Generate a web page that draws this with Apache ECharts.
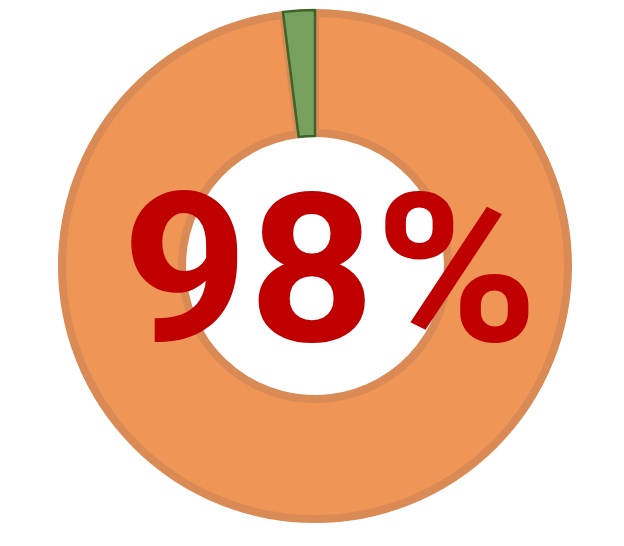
<!DOCTYPE html>
<html>
<head>
<meta charset="utf-8">
<script src="https://cdn.jsdelivr.net/npm/echarts@6/dist/echarts.min.js"></script>
<style>
html,body{margin:0;padding:0;background:#fff;}
#chart{width:624px;height:546px;}
</style>
</head>
<body>
<div id="chart"></div>
<script>
const categories = ['Complete', 'Remaining'];
const values = [98, 2];
const centerText = values[0] + '%';

const chart = echarts.init(document.getElementById('chart'), null, {renderer: 'canvas'});
chart.setOption({
  backgroundColor: '#ffffff',
  animation: false,
  series: [
    {
      type: 'pie',
      center: [315, 266],
      radius: [133, 253],
      startAngle: 90,
      clockwise: true,
      silent: true,
      label: {show: false},
      labelLine: {show: false},
      data: [
        {name: categories[0], value: values[0], itemStyle: {color: '#EF9556', borderColor: '#DA8A55', borderWidth: 8}},
        {name: categories[1], value: values[1], itemStyle: {color: 'rgba(0,0,0,0)', borderWidth: 0}}
      ]
    },
    {
      type: 'pie',
      center: [315, 266],
      radius: [130, 256],
      startAngle: 90,
      clockwise: true,
      silent: true,
      label: {show: false},
      labelLine: {show: false},
      data: [
        {name: categories[0], value: values[0], itemStyle: {color: 'rgba(0,0,0,0)', borderWidth: 0}},
        {name: categories[1], value: values[1], itemStyle: {color: '#77A05E', borderColor: '#3D6429', borderWidth: 2.5}}
      ]
    }
  ],
  graphic: [
    {
      type: 'text',
      z: 100,
      zlevel: 1,
      x: 330,
      y: 289,
      scaleX: 1.06,
      style: {
        text: centerText,
        fill: '#C00000',
        font: 'bold 208px Roboto',
        textAlign: 'center',
        textVerticalAlign: 'middle'
      }
    }
  ]
});
</script>
</body>
</html>
